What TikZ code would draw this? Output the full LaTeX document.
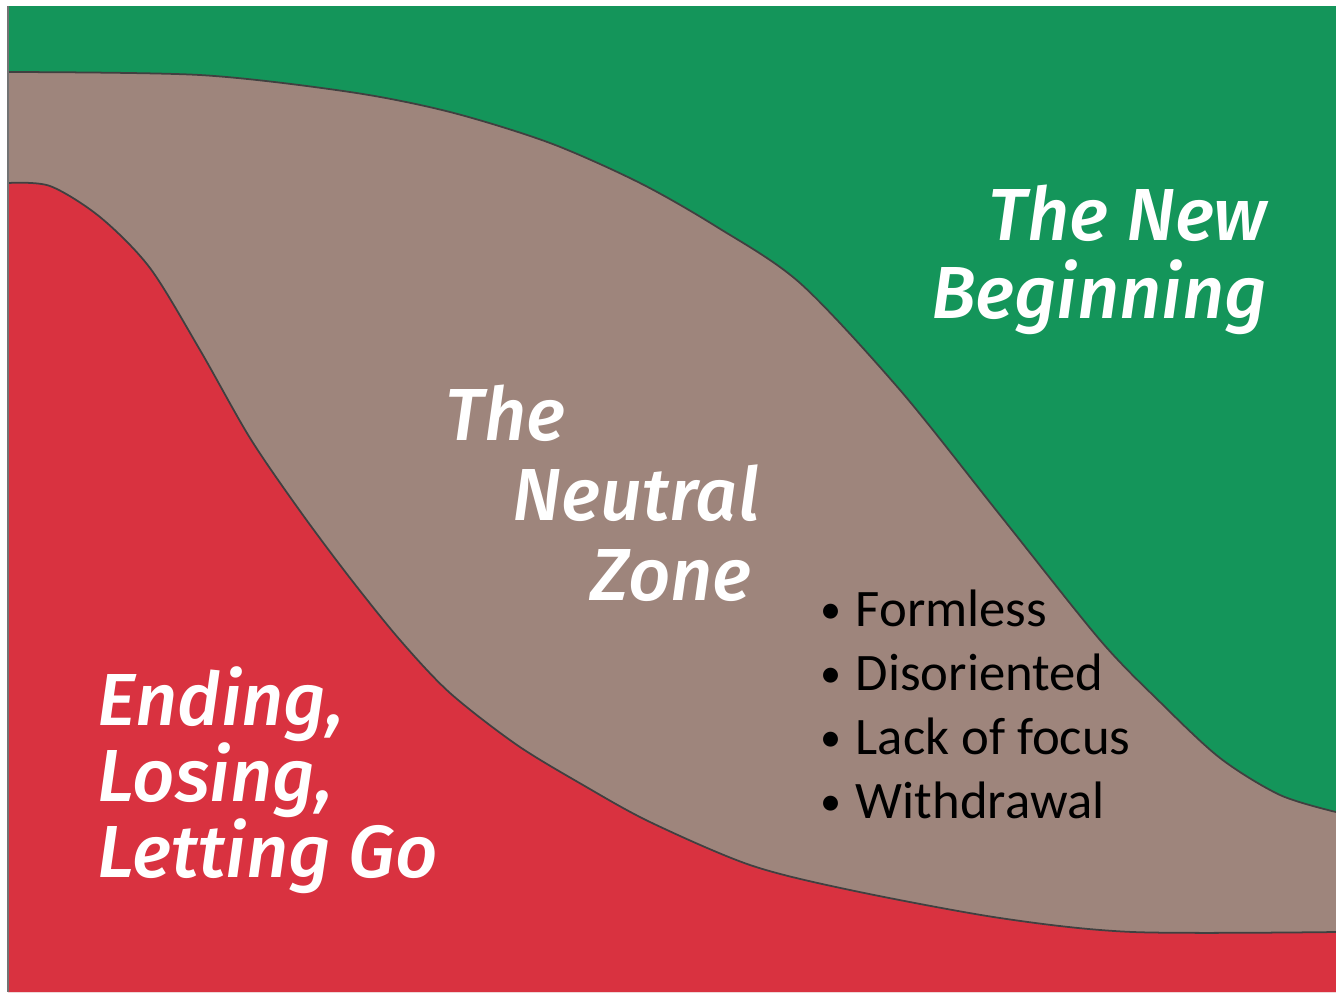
\documentclass[tikz,border=0pt]{standalone}
\usepackage{fontspec}
\setmainfont{Carlito}
\newfontfamily\zonefont{Fira Sans Medium Italic}
\definecolor{newgreen}{RGB}{20,149,90}
\definecolor{neutralgrey}{RGB}{158,133,124}
\definecolor{endred}{RGB}{217,50,64}
\tikzset{
  zone/.style={text=white, font=\zonefont\fontsize{21}{22}\selectfont, inner sep=0pt},
  point/.style={text=black, font=\fontsize{15}{18.2}\selectfont, inner sep=0pt, align=left},
  edge/.style={draw=black!75, line width=0.5pt}
}
\newcommand\topcurve{plot[smooth] coordinates {(0.08,-0.72) (2.00,-0.75) (3.50,-0.92) (4.50,-1.12) (5.50,-1.43) (6.40,-1.83) (7.17,-2.27) (8.00,-2.83) (9.00,-3.90) (10.00,-5.15) (11.00,-6.40) (11.60,-7.02) (12.20,-7.58) (12.80,-7.95) (13.36,-8.12)}}
\newcommand\lowcurve{plot[smooth] coordinates {(0.08,-1.83) (0.50,-1.86) (1.00,-2.17) (1.50,-2.68) (2.00,-3.50) (2.50,-4.38) (3.00,-5.11) (3.50,-5.78) (4.00,-6.40) (4.50,-6.93) (5.17,-7.45) (5.83,-7.85) (6.50,-8.22) (7.50,-8.65) (8.50,-8.90) (10.00,-9.18) (11.33,-9.32) (13.36,-9.32)}}
\newcommand\dotmark{\raisebox{0.8pt}{\fontsize{12}{12}\selectfont\textbullet}\hspace{4pt}}

\begin{document}
\begin{tikzpicture}
       \useasboundingbox (0,0) rectangle (13.36,-9.92);
       \fill[white] (0,0) rectangle (13.36,-9.92);
       % the three zones
       \fill[newgreen] (0.08,-0.06) rectangle (13.36,-9.92);
       \fill[neutralgrey] \topcurve -- (13.36,-9.92) -- (0.08,-9.92) -- cycle;
       \fill[endred] \lowcurve -- (13.36,-9.92) -- (0.08,-9.92) -- cycle;
       \draw[edge] \topcurve;
       \draw[edge] \lowcurve;
       \draw[edge, draw=black!55] (0.08,-0.06) -- (0.08,-9.92);
       % labels (base = last line)
       \node[zone, align=right, anchor=base east] (newbeg) at (12.68,-3.18) {The New\\Beginning};
       \node[zone, anchor=base west] (neutral1) at (4.45,-4.40) {The};
       \node[zone, anchor=base west] (neutral2) at (5.12,-5.20) {Neutral};
       \node[zone, anchor=base west] (neutral3) at (5.90,-6.00) {Zone};
       \node[zone, align=left, anchor=base west, font=\zonefont\fontsize{21}{21.6}\selectfont] (ending) at (0.97,-8.77) {Ending,\\Losing,\\Letting Go};
       \node[point, anchor=base west] (traits) at (8.20,-8.18)
         {\dotmark Formless\\\dotmark Disoriented\\\dotmark Lack of focus\\\dotmark Withdrawal};
     \end{tikzpicture}
\end{document}
